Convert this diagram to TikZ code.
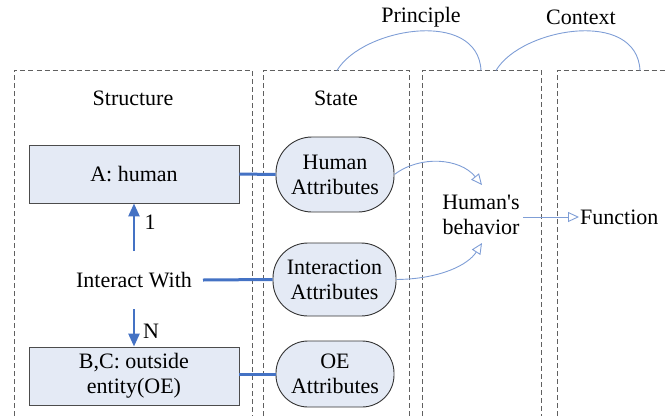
\documentclass[tikz,border=0pt]{standalone}
\usepackage{fontspec}
\setmainfont{Liberation Serif}
\usetikzlibrary{arrows.meta}
\definecolor{thickblue}{HTML}{4472C4}
\definecolor{thinblue}{HTML}{7F9ED6}
\definecolor{boxfill}{HTML}{E4EAF5}
\definecolor{dashgray}{HTML}{606060}
\tikzset{
  lbl/.style={font=\fontsize{22}{25}\selectfont, align=center, inner sep=1pt},
  rectbox/.style={draw=black!70, fill=boxfill, line width=0.9pt, minimum width=210pt, align=center, font=\fontsize{22}{25}\selectfont},
  attrbox/.style={draw=black!80, fill=boxfill, line width=0.9pt, align=center, font=\fontsize{22}{25}\selectfont, inner sep=0pt},
  dashbox/.style={draw=dashgray, dash pattern=on 5pt off 3pt, line width=0.8pt},
  thickline/.style={draw=thickblue, line width=3pt},
  thickarrow/.style={draw=thickblue, line width=2.6pt, -{Triangle[length=13pt,width=11pt]}},
  thinarc/.style={draw=thinblue, line width=0.9pt},
  thinarrow/.style={draw=thinblue, line width=0.9pt, -{Triangle[open,length=11pt,width=10pt]}},
}
\begin{document}
\begin{tikzpicture}[x=1pt,y=-1pt]
\useasboundingbox (0,0) rectangle (665,416);
% dashed columns
\draw[dashbox] (14,416) -- (14,70.5) -- (252,70.5) -- (252,416);
\draw[dashbox] (263,416) -- (263,70.5) -- (409,70.5) -- (409,416);
\draw[dashbox] (422,416) -- (422,70.5) -- (541,70.5) -- (541,416);
\draw[dashbox] (557,416) -- (557,70.5) -- (665,70.5);
% column titles
\node[lbl] (structure) at (133,98) {Structure};
\node[lbl] (state) at (336,98) {State};
\node[lbl] (principle) at (421,17) {Principle};
\node[lbl] (context) at (581,17) {Context};
% arcs
\coordinate (p1) at (337,70.5);
\coordinate (p2) at (481,70.5);
\coordinate (c1) at (496,70.5);
\coordinate (c2) at (640,70.5);
\draw[thinarc] (p1) .. controls (362,28) and (478,8) .. (p2);
\draw[thinarc] (c1) .. controls (521,28) and (637,8) .. (c2);
% structure nodes
\node[rectbox, minimum height=58pt] (A) at (134,174) {A: human};
\node[lbl] (interact) at (134,280) {Interact With};
\node[rectbox, minimum height=58pt, inner sep=1pt] (BC) at (134,376) {B,C: outside\\entity(OE)};
% state nodes
\node[attrbox, rounded corners=36pt, minimum width=118pt, minimum height=75pt] (HA) at (335,174.5) {Human\\Attributes};
\node[attrbox, rounded corners=35pt, minimum width=123pt, minimum height=73pt] (IA) at (334.5,279.5) {Interaction\\Attributes};
\node[attrbox, rounded corners=32pt, minimum width=118pt, minimum height=66pt] (OA) at (335,374) {OE\\Attributes};
% behaviour and function
\node[lbl] (HB) at (481,215) {Human\textquotesingle s\\behavior};
\node[lbl, anchor=west] (F) at (579,217) {Function};
\coordinate (fstart) at (523,217);
\coordinate (up0) at (134,251);
\coordinate (dn0) at (134,309);
\coordinate (iaS) at (203,280);
% thick connectors
\draw[thickline] (A.east) -- (HA.west);
\draw[thickline] (iaS) -- (IA.west);
\draw[thickline] (BC.east |- OA.west) -- (OA.west);
\draw[thickarrow] (up0) -- (A.south);
\draw[thickarrow] (dn0) -- (BC.north);
\node[lbl] (one) at (150,222) {1};
\node[lbl] (N) at (151,331) {N};
% thin arrows
\draw[thinarrow] (HA.east) .. controls (420,155) and (460,158) .. (482,185);
\draw[thinarrow] (IA.east) .. controls (440,279) and (468,265) .. (482,243);
\draw[thinarrow] (fstart) -- (F.west);
\end{tikzpicture}
\end{document}
